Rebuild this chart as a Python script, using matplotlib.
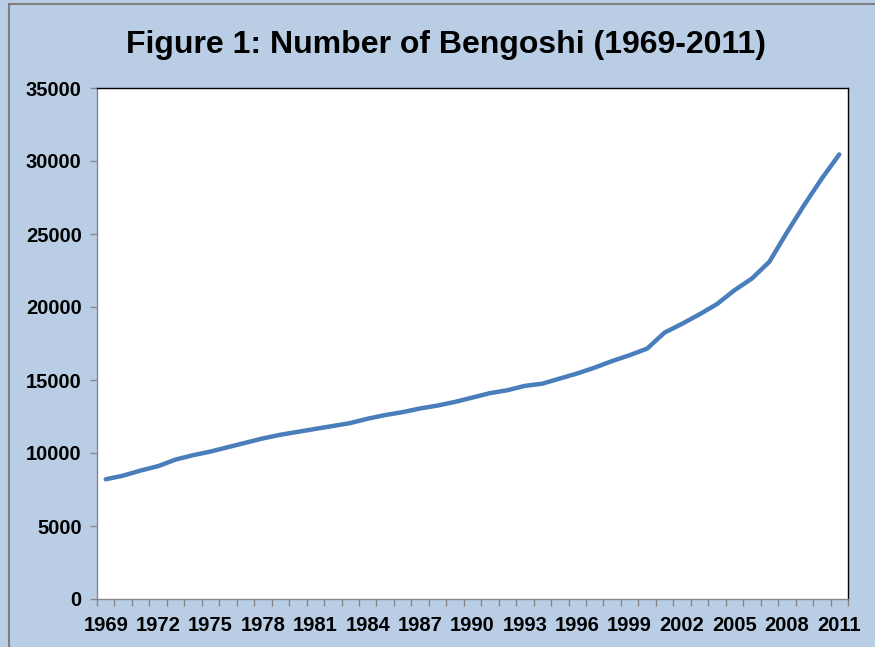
import numpy as np
import matplotlib
matplotlib.use('Agg')
import matplotlib.pyplot as plt
from matplotlib.patches import Rectangle

### data
years = list(range(1969, 2012))
bengoshi = [8200, 8450, 8800, 9100, 9550, 9850, 10100, 10400, 10700, 11000,
            11250, 11450, 11650, 11850, 12050, 12350, 12600, 12800, 13050, 13250,
            13500, 13800, 14100, 14300, 14600, 14750, 15100, 15450, 15850, 16300,
            16700, 17150, 18250, 18850, 19500, 20200, 21150, 21950, 23100, 25100,
            27000, 28800, 30450]
yticks = [0, 5000, 10000, 15000, 20000, 25000, 30000, 35000]

### style
plt.rcParams['font.family'] = ['Liberation Sans', 'DejaVu Sans']
plt.rcParams['font.weight'] = 'bold'
bg = '#b9cde5'

W, H = 875, 647
fig = plt.figure(figsize=(W / 100, H / 100), dpi=100, facecolor=bg)
ax = fig.add_axes([97 / W, 1 - 599 / H, (848 - 97) / W, (599 - 88) / H])

x = np.arange(len(years))
ax.plot(x, bengoshi, color='#4a7ebb', lw=3.2, solid_capstyle='round')

### axes
ax.set_xlim(-0.5, len(years) - 0.5)
ax.set_ylim(0, 35000)
ax.set_yticks(yticks)
ax.set_yticklabels([str(v) for v in yticks], fontsize=14.5, fontweight='bold')
ax.set_xticks(x[::3])
ax.set_xticklabels([str(y) for y in years[::3]], fontsize=14.5, fontweight='bold')
ax.set_xticks(np.arange(len(years) + 1) - 0.5, minor=True)
ax.tick_params(axis='x', which='major', length=0, pad=12)
ax.tick_params(axis='x', which='minor', length=5, color='#868686', width=1)
ax.tick_params(axis='y', length=5, color='#868686', width=1, pad=6)

for side in ['top', 'right']:
    ax.spines[side].set_color('black')
    ax.spines[side].set_linewidth(1)
for side in ['left', 'bottom']:
    ax.spines[side].set_color('#868686')
    ax.spines[side].set_linewidth(1)

### title
fig.text(446 / W, 1 - 45 / H, 'Figure 1: Number of Bengoshi (1969-2011)',
         ha='center', va='center', fontsize=23, fontweight='bold')

### outer border
fig.patches.append(Rectangle((9 / W, -0.1), 1.2, 1 - 4 / H + 0.1,
                             transform=fig.transFigure, fill=False,
                             edgecolor='#7f7f7f', lw=1.5))

plt.savefig('out.png', dpi=100, facecolor=bg)
